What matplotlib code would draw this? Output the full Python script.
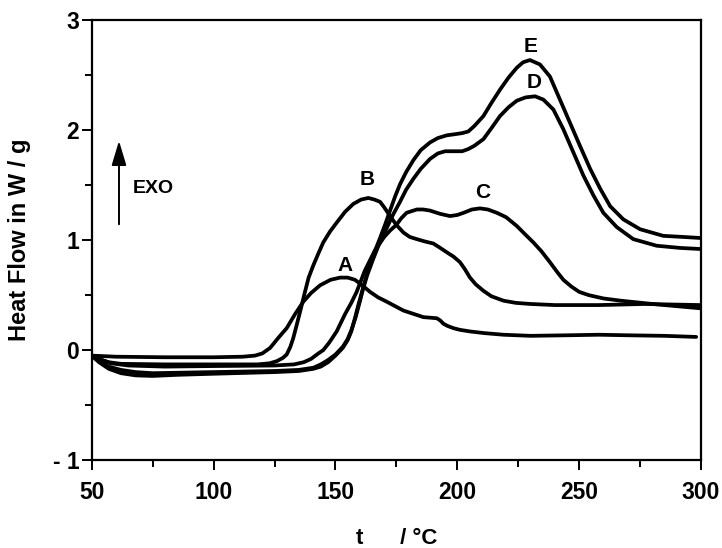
import matplotlib
matplotlib.use("Agg")
import matplotlib.pyplot as plt
from matplotlib.ticker import MultipleLocator

FONT = ['Liberation Sans Narrow', 'Liberation Sans', 'DejaVu Sans']
plt.rcParams['font.family'] = FONT
plt.rcParams['font.weight'] = 'bold'

# ---- data ----
T_A = [50, 60, 80, 100, 112, 117, 120, 123.2, 126.5, 130, 133.5, 136.8, 140, 143.7, 148, 151.9,
       155, 158, 161, 164.2, 167.5, 171.1, 174.5, 177.9, 182, 186.1, 189, 191.6, 193, 194.3,
       196, 198.4, 201, 205.2, 211, 218.9, 230, 245, 258, 270, 285, 298]
H_A = [-0.05, -0.06, -0.065, -0.065, -0.06, -0.05, -0.03, 0.02, 0.11, 0.20, 0.33, 0.44, 0.52,
       0.59, 0.64, 0.66, 0.66, 0.64, 0.59, 0.53, 0.48, 0.44, 0.40, 0.36, 0.33, 0.30, 0.295, 0.29,
       0.27, 0.24, 0.22, 0.20, 0.185, 0.17, 0.155, 0.14, 0.13, 0.135, 0.14, 0.135, 0.13, 0.12]

T_B = [50, 53, 57, 62, 80, 100, 118, 123, 126, 128.5, 130, 131.5, 132.7, 134, 135.5, 137.5, 139,
       140.9, 143, 145, 147.8, 150.5, 154, 157.3, 160.5, 163.5, 166, 168.3, 170, 172.4, 175,
       177.9, 180.5, 183.4, 186.5, 190.2, 193, 195.7, 198.5, 201.1, 203, 205.2, 207.5, 210.7,
       214, 218.9, 224, 230, 240, 258, 277, 299.6]
H_B = [-0.05, -0.08, -0.11, -0.125, -0.13, -0.13, -0.13, -0.12, -0.10, -0.07, -0.04, 0.03, 0.11,
       0.22, 0.35, 0.53, 0.66, 0.77, 0.88, 0.98, 1.08, 1.16, 1.26, 1.33, 1.37, 1.385, 1.37, 1.35,
       1.30, 1.22, 1.14, 1.07, 1.03, 1.01, 0.99, 0.97, 0.93, 0.89, 0.85, 0.80, 0.74, 0.66, 0.60,
       0.54, 0.49, 0.45, 0.43, 0.42, 0.41, 0.41, 0.42, 0.41]

T_C = [50, 54, 58, 65, 80, 100, 125, 133, 137, 140, 143, 145, 147.5, 150.5, 154, 156.5, 158.7,
       162, 166, 170, 172.5, 175, 177, 179.2, 183.4, 186, 188.8, 193, 197, 200, 202.6, 206, 209.3,
       212.5, 216.2, 220, 224.4, 228, 231.2, 234.5, 238, 241, 243.5, 246.7, 250, 254, 260, 267,
       280, 290, 300]
H_C = [-0.05, -0.09, -0.12, -0.14, -0.15, -0.145, -0.14, -0.13, -0.11, -0.08, -0.03, 0.0, 0.07,
       0.17, 0.33, 0.43, 0.53, 0.72, 0.90, 1.03, 1.09, 1.14, 1.20, 1.25, 1.28, 1.28, 1.27, 1.24,
       1.22, 1.23, 1.25, 1.28, 1.29, 1.28, 1.25, 1.21, 1.13, 1.05, 0.98, 0.90, 0.80, 0.71, 0.64,
       0.58, 0.53, 0.50, 0.47, 0.45, 0.42, 0.40, 0.38]

T_D = [50, 53, 57, 62, 68, 75, 100, 125, 135, 141, 144, 147, 150, 153, 155, 156.5, 158.3, 160.1,
       161.5, 163, 165.5, 168, 171, 173.8, 176.5, 179, 182, 185, 188.8, 192, 195, 199, 202, 204.5,
       207, 210.7, 214, 217.5, 221, 224.4, 228, 231.9, 235.3, 239.4, 243.5, 247.6, 251.7, 255.8,
       259.9, 265.4, 272.2, 281.8, 291.4, 300]
H_D = [-0.05, -0.10, -0.15, -0.18, -0.20, -0.21, -0.20, -0.19, -0.18, -0.16, -0.13, -0.09, -0.04,
       0.03, 0.10, 0.18, 0.30, 0.45, 0.57, 0.68, 0.83, 0.97, 1.11, 1.24, 1.35, 1.46, 1.56, 1.65,
       1.74, 1.79, 1.81, 1.81, 1.81, 1.83, 1.86, 1.92, 2.02, 2.13, 2.21, 2.27, 2.30, 2.31, 2.28,
       2.19, 2.01, 1.80, 1.59, 1.41, 1.25, 1.12, 1.01, 0.95, 0.93, 0.92]

T_E = [50, 53, 57, 62, 68, 75, 85, 100, 125, 135, 141, 144, 147, 150, 153, 155, 156.5, 158, 159.5,
       161, 162.8, 164.5, 166.5, 168.3, 170.5, 172.4, 174.5, 176.5, 179, 182, 185, 188.8, 192,
       195.7, 199, 202, 204.5, 207, 210.7, 214, 217.5, 221, 224.4, 227, 229.8, 233.9, 238, 242.1,
       246.2, 250.3, 254.5, 258.6, 262.7, 268.1, 275, 284.5, 292.7, 300]
H_E = [-0.05, -0.11, -0.17, -0.21, -0.23, -0.235, -0.225, -0.215, -0.20, -0.19, -0.17, -0.15,
       -0.11, -0.05, 0.02, 0.09, 0.17, 0.29, 0.42, 0.54, 0.68, 0.80, 0.92, 1.02, 1.15, 1.27, 1.40,
       1.51, 1.62, 1.73, 1.82, 1.89, 1.93, 1.955, 1.965, 1.975, 1.99, 2.04, 2.13, 2.25, 2.37, 2.48,
       2.57, 2.62, 2.64, 2.60, 2.49, 2.28, 2.07, 1.86, 1.65, 1.47, 1.31, 1.19, 1.10, 1.04, 1.03,
       1.02]

series = [(T_A, H_A), (T_B, H_B), (T_C, H_C), (T_D, H_D), (T_E, H_E)]
curve_labels = ['A', 'B', 'C', 'D', 'E']
label_pos = [(154, 0.77), (163, 1.55), (210.6, 1.43), (231.7, 2.44), (230.2, 2.76)]

x_ticks = [50, 100, 150, 200, 250, 300]
y_ticks = [-1, 0, 1, 2, 3]
y_tick_labels = ['- 1', '0', '1', '2', '3']

# ---- figure ----
fig = plt.figure(figsize=(7.22, 5.48), dpi=100)
ax = fig.add_axes([0.127, 0.1606, 0.844, 0.802])

for (T, H) in series:
    ax.plot(T, H, color='black', lw=2.7, solid_joinstyle='round', solid_capstyle='round')

for lab, (x, y) in zip(curve_labels, label_pos):
    ax.text(x, y, lab, ha='center', va='center', fontsize=15, fontweight='bold', family=FONT)

# EXO arrow
ax.annotate('', xy=(61.2, 1.93), xytext=(61.2, 1.12),
            arrowprops=dict(arrowstyle='-|>,head_length=1.5,head_width=0.45', color='black',
                            lw=1.4))
ax.text(67.0, 1.47, 'EXO', ha='left', va='center', fontsize=14, fontweight='bold', family=FONT)

ax.set_xlim(50, 300)
ax.set_ylim(-1, 3)
ax.set_xticks(x_ticks)
ax.set_xticklabels([str(v) for v in x_ticks])
ax.set_yticks(y_ticks)
ax.set_yticklabels(y_tick_labels)
ax.xaxis.set_minor_locator(MultipleLocator(25))
ax.yaxis.set_minor_locator(MultipleLocator(0.5))
ax.tick_params(which='major', direction='out', length=7, width=1.4, labelsize=16.5, color='black')
ax.tick_params(which='minor', direction='out', length=5, width=1.4, color='black')
ax.tick_params(axis='x', which='major', pad=8)
ax.tick_params(axis='y', which='major', pad=2)
for lbl in ax.get_xticklabels() + ax.get_yticklabels():
    lbl.set_fontweight('bold')
for sp in ax.spines.values():
    sp.set_linewidth(1.6)

ax.set_ylabel('Heat Flow in W / g', fontsize=17, fontweight='bold')
ax.yaxis.set_label_coords(-0.10, 0.5)

fig.text(0.55, 0.018, 't      / °C', ha='center', va='center', fontsize=16, fontweight='bold')

fig.savefig('out.png', dpi=100)
